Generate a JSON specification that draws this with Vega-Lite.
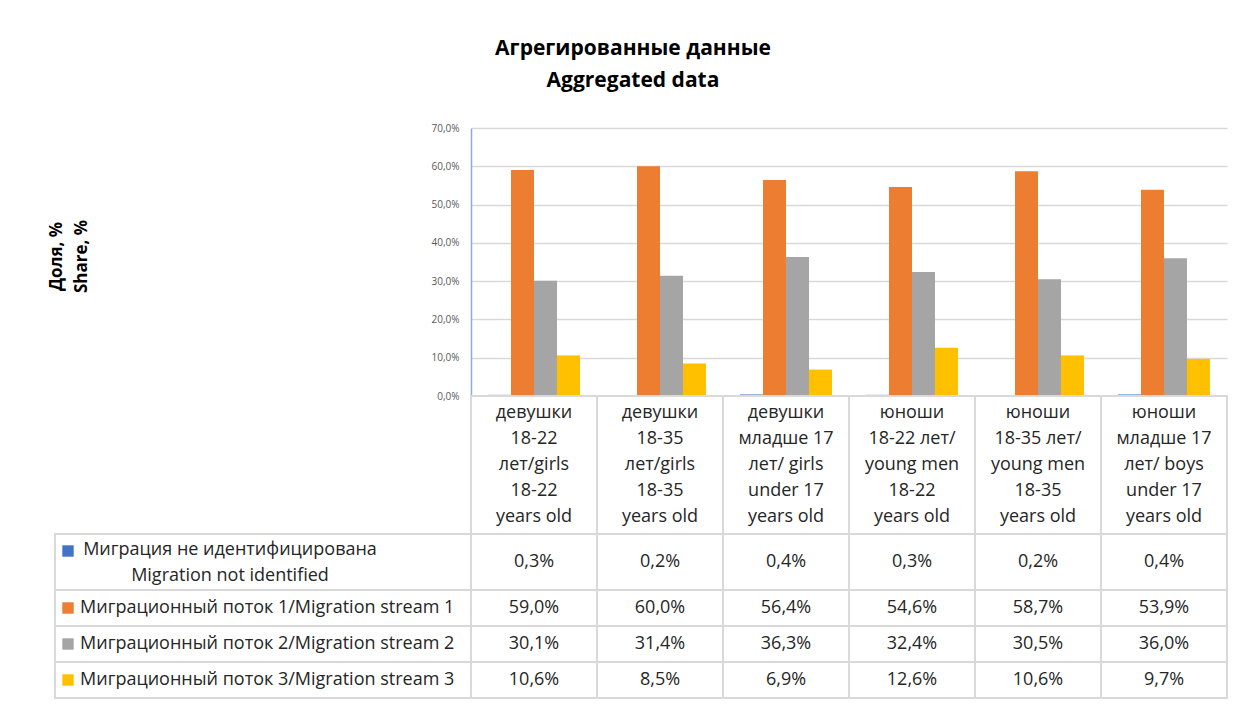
{
  "$schema": "https://vega.github.io/schema/vega-lite/v6.json",
  "padding": {"left": 47, "top": 38, "right": 5, "bottom": 5},
  "background": "#ffffff",
  "title": {"text": ["Агрегированные данные", "Aggregated data"], "fontSize": 21, "fontWeight": "bold", "font": "Open Sans", "color": "#000000", "lineHeight": 32, "anchor": "middle", "offset": 32, "dx": -5},
  "config": {
    "view": {"stroke": null},
    "font": "Open Sans",
    "text": {"lineBreak": "\n"},
    "locale": {"number": {"decimal": ",", "thousands": " ", "grouping": [3], "currency": ["", ""]}}
  },
  "datasets": {
    "main": [
      {"cat": "c1", "sid": "s0", "value": 0.003}, {"cat": "c1", "sid": "s1", "value": 0.590}, {"cat": "c1", "sid": "s2", "value": 0.301}, {"cat": "c1", "sid": "s3", "value": 0.106},
      {"cat": "c2", "sid": "s0", "value": 0.002}, {"cat": "c2", "sid": "s1", "value": 0.600}, {"cat": "c2", "sid": "s2", "value": 0.314}, {"cat": "c2", "sid": "s3", "value": 0.085},
      {"cat": "c3", "sid": "s0", "value": 0.004}, {"cat": "c3", "sid": "s1", "value": 0.564}, {"cat": "c3", "sid": "s2", "value": 0.363}, {"cat": "c3", "sid": "s3", "value": 0.069},
      {"cat": "c4", "sid": "s0", "value": 0.003}, {"cat": "c4", "sid": "s1", "value": 0.546}, {"cat": "c4", "sid": "s2", "value": 0.324}, {"cat": "c4", "sid": "s3", "value": 0.126},
      {"cat": "c5", "sid": "s0", "value": 0.002}, {"cat": "c5", "sid": "s1", "value": 0.587}, {"cat": "c5", "sid": "s2", "value": 0.305}, {"cat": "c5", "sid": "s3", "value": 0.106},
      {"cat": "c6", "sid": "s0", "value": 0.004}, {"cat": "c6", "sid": "s1", "value": 0.539}, {"cat": "c6", "sid": "s2", "value": 0.360}, {"cat": "c6", "sid": "s3", "value": 0.097}
    ],
    "cats": [
      {"cat": "c1", "label": "девушки\n18-22\nлет/girls\n18-22\nyears old"},
      {"cat": "c2", "label": "девушки\n18-35\nлет/girls\n18-35\nyears old"},
      {"cat": "c3", "label": "девушки\nмладше 17\nлет/ girls\nunder  17\nyears old"},
      {"cat": "c4", "label": "юноши\n18-22 лет/\nyoung men\n18-22\nyears old"},
      {"cat": "c5", "label": "юноши\n18-35 лет/\nyoung men\n18-35\nyears old"},
      {"cat": "c6", "label": "юноши\nмладше 17\nлет/ boys\nunder 17\nyears old"}
    ],
    "series": [
      {"sid": "s0", "name": "Миграция не идентифицирована\nMigration not identified"},
      {"sid": "s1", "name": "Миграционный поток 1/Migration stream 1"},
      {"sid": "s2", "name": "Миграционный поток 2/Migration stream 2"},
      {"sid": "s3", "name": "Миграционный поток 3/Migration stream 3"}
    ]
  },
  "columns": 2,
  "spacing": 0,
  "bounds": "flush",
  "concat": [
    {
      "width": 416, "height": 268,
      "data": {"values": [{"a": 1}]},
      "mark": {"type": "point", "opacity": 0},
      "encoding": {}
    },
    {
      "width": 756, "height": 268,
      "data": {"name": "main"},
      "mark": {"type": "bar"},
      "encoding": {
        "x": {"field": "cat", "type": "nominal", "scale": {"paddingInner": 0.27, "paddingOuter": 0.135}, "axis": null},
        "xOffset": {"field": "sid", "type": "nominal", "scale": {"paddingInner": 0, "paddingOuter": 0}},
        "y": {"field": "value", "type": "quantitative", "scale": {"domain": [0, 0.7]},
          "axis": {"values": [0, 0.1, 0.2, 0.3, 0.4, 0.5, 0.6, 0.7], "format": ".1%", "labelFontSize": 10, "labelColor": "#595959", "ticks": false, "labelPadding": 12,
            "domainColor": "#8faadc", "domainWidth": 1.5, "gridColor": "#d9d9d9", "gridWidth": 1.5,
            "title": ["Доля, %", "Share, %"], "titleFontSize": 17, "titleFontWeight": "bold", "titleColor": "#000000", "titlePadding": 340, "titleLineHeight": 25, "titleY": 128}},
        "color": {"field": "sid", "type": "nominal", "scale": {"domain": ["s0", "s1", "s2", "s3"], "range": ["#4472c4", "#ed7d31", "#a5a5a5", "#ffc000"]}, "legend": null}
      }
    },
    {
      "width": 416, "height": 138,
      "data": {"values": [{"a": 1}]},
      "mark": {"type": "point", "opacity": 0},
      "encoding": {}
    },
    {
      "width": 756, "height": 138,
      "data": {"name": "cats"},
      "encoding": {"x": {"field": "cat", "type": "nominal", "scale": {"paddingInner": 0, "paddingOuter": 0}, "axis": null}},
      "layer": [
        {"mark": {"type": "rect", "fill": "#ffffff", "stroke": "#d9d9d9", "strokeWidth": 2}},
        {"mark": {"type": "text", "fontSize": 18, "lineHeight": 26, "dy": -52, "color": "#262626"}, "encoding": {"text": {"field": "label"}}}
      ]
    },
    {
      "width": 416, "height": 56,
      "data": {"name": "series"},
      "transform": [{"filter": "datum.sid === 's0'"}],
      "layer": [
        {"mark": {"type": "rect", "fill": "#ffffff", "stroke": "#d9d9d9", "strokeWidth": 2}, "encoding": {"y": {"field": "sid", "type": "nominal", "scale": {"paddingInner": 0, "paddingOuter": 0}, "axis": null}}},
        {"mark": {"type": "point", "shape": "square", "filled": true, "size": 130, "opacity": 1, "xOffset": -195, "yOffset": -11}, "encoding": {"color": {"field": "sid", "type": "nominal", "scale": {"domain": ["s0", "s1", "s2", "s3"], "range": ["#4472c4", "#ed7d31", "#a5a5a5", "#ffc000"]}, "legend": null}}},
        {"mark": {"type": "text", "fontSize": 18, "lineHeight": 26, "dy": -12, "color": "#262626", "align": "center", "dx": -33}, "encoding": {"text": {"field": "name"}}}
      ]
    },
    {
      "width": 756, "height": 56,
      "data": {"name": "main"},
      "transform": [{"filter": "datum.sid === 's0'"}],
      "encoding": {"x": {"field": "cat", "type": "nominal", "scale": {"paddingInner": 0, "paddingOuter": 0}, "axis": null}},
      "layer": [
        {"mark": {"type": "rect", "fill": "#ffffff", "stroke": "#d9d9d9", "strokeWidth": 2}},
        {"mark": {"type": "text", "fontSize": 18, "color": "#262626"}, "encoding": {"text": {"field": "value", "format": ".1%"}}}
      ]
    },
    {
      "width": 416, "height": 108,
      "data": {"name": "series"},
      "transform": [{"filter": "datum.sid !== 's0'"}],
      "encoding": {"y": {"field": "sid", "type": "nominal", "scale": {"paddingInner": 0, "paddingOuter": 0}, "axis": null}},
      "layer": [
        {"mark": {"type": "rect", "fill": "#ffffff", "stroke": "#d9d9d9", "strokeWidth": 2}},
        {"mark": {"type": "point", "shape": "square", "filled": true, "size": 130, "opacity": 1, "xOffset": -195}, "encoding": {"color": {"field": "sid", "type": "nominal", "scale": {"domain": ["s0", "s1", "s2", "s3"], "range": ["#4472c4", "#ed7d31", "#a5a5a5", "#ffc000"]}, "legend": null}}},
        {"mark": {"type": "text", "fontSize": 18, "color": "#262626", "align": "left", "dx": -183}, "encoding": {"text": {"field": "name"}}}
      ]
    },
    {
      "width": 756, "height": 108,
      "data": {"name": "main"},
      "transform": [{"filter": "datum.sid !== 's0'"}],
      "encoding": {
        "x": {"field": "cat", "type": "nominal", "scale": {"paddingInner": 0, "paddingOuter": 0}, "axis": null},
        "y": {"field": "sid", "type": "nominal", "scale": {"paddingInner": 0, "paddingOuter": 0}, "axis": null}
      },
      "layer": [
        {"mark": {"type": "rect", "fill": "#ffffff", "stroke": "#d9d9d9", "strokeWidth": 2}},
        {"mark": {"type": "text", "fontSize": 18, "color": "#262626"}, "encoding": {"text": {"field": "value", "format": ".1%"}}}
      ]
    }
  ]
}
